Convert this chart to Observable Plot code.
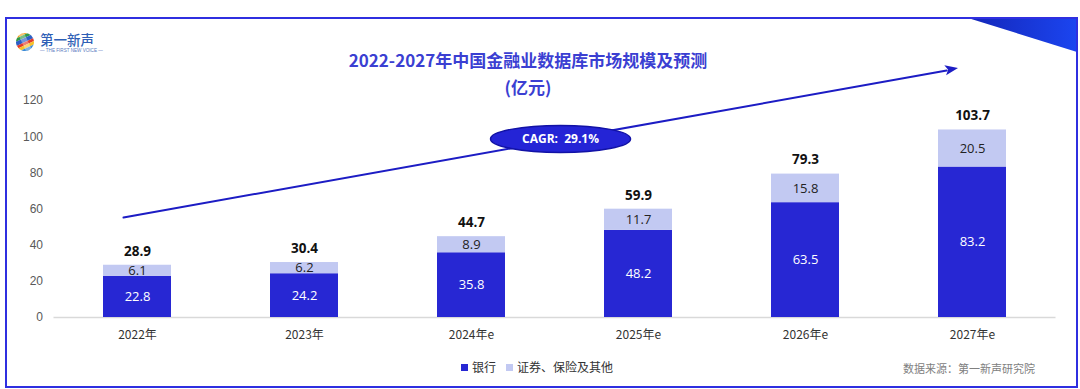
<!DOCTYPE html>
<html><head><meta charset="utf-8">
<script src="https://cdn.jsdelivr.net/npm/d3@7"></script>
<script src="https://cdn.jsdelivr.net/npm/@observablehq/plot@0.6"></script>
<style>
body{margin:0;background:#fff;}
#wrap{position:relative;width:1080px;height:389px;overflow:hidden;background:#fff;font-family:"Noto Sans CJK SC","Noto Sans",sans-serif;}
#frame{position:absolute;left:5px;top:17px;width:1069px;height:367px;border:2px solid #2f2fe0;box-sizing:content-box;}
#corner{position:absolute;left:0;top:0;}
#chart{position:absolute;left:0;top:0;}
.title{position:absolute;left:0;width:1056px;text-align:center;color:#3b3fd2;font-weight:700;font-size:17px;line-height:20px;}
#legend{position:absolute;top:358px;left:461px;font-size:12px;color:#333;white-space:nowrap;}
#legend span.sw{display:inline-block;width:7px;height:7px;margin-right:4px;vertical-align:1px;}
#legend span.item{margin-right:10px;}
#source{position:absolute;top:360px;left:903px;font-size:11px;color:#808080;white-space:nowrap;}
#logo{position:absolute;left:14px;top:28px;}
</style></head><body>
<div id="wrap">
  <svg id="corner" width="1080" height="389">
    <defs><linearGradient id="cg" x1="0" y1="0" x2="1" y2="0">
      <stop offset="0" stop-color="#1426b8"/><stop offset="1" stop-color="#1b45f0"/></linearGradient></defs>
    <polygon points="968,18 1077,18 1077,52" fill="url(#cg)"/>
  </svg>
  <div id="frame"></div>
  <svg id="logo" width="100" height="30">
    <defs><clipPath id="lc"><circle cx="11" cy="14" r="9"/></clipPath></defs>
    <g clip-path="url(#lc)" transform="rotate(-25 11 14)">
      <rect x="0" y="3" width="24" height="4" fill="#f2a21f"/>
      <rect x="0" y="7" width="24" height="3" fill="#2f9a48"/>
      <rect x="0" y="10" width="24" height="4" fill="#2d5fc6"/>
      <rect x="0" y="14" width="24" height="3" fill="#e33b2b"/>
      <rect x="0" y="17" width="24" height="3" fill="#f6c12a"/>
      <rect x="0" y="20" width="24" height="6" fill="#3a8ad6"/>
      <rect x="8" y="2" width="6" height="24" fill="#ffffff" opacity="0.35"/>
    </g>
    <text x="26" y="17" font-size="13.5" fill="#2f5fb6" font-family="Noto Sans CJK SC" font-weight="500">第一新声</text>
    <text x="26" y="24" font-size="4.6" fill="#5a7cc0" font-family="Liberation Sans">— THE FIRST NEW VOICE —</text>
  </svg>
  <div id="t1" class="title" style="top:50px;"></div>
  <div id="t2" class="title" style="top:77px;"></div>
  <div id="chart"></div>
  <div id="legend"></div>
  <div id="source"></div>
</div>
<script>
// ---- data ----
const categories = ["2022年", "2023年", "2024年e", "2025年e", "2026年e", "2027年e"];
const bankValues = [22.8, 24.2, 35.8, 48.2, 63.5, 83.2];
const otherValues = [6.1, 6.2, 8.9, 11.7, 15.8, 20.5];
const totalValues = [28.9, 30.4, 44.7, 59.9, 79.3, 103.7];
const seriesNames = ["银行", "证券、保险及其他"];
const seriesColors = ["#2727d3", "#c2c9f2"];
const yTicks = [0, 20, 40, 60, 80, 100, 120];
const titleText = "2022-2027年中国金融业数据库市场规模及预测";
const subtitleText = "(亿元)";
const cagrText = "CAGR:  29.1%";
const arrowFrom = 55.3;   // trend arrow start (y value)
const arrowTo = 137.7;    // trend arrow end (y value)
const sourceText = "数据来源：第一新声研究院";

// ---- build ----
document.getElementById("t1").textContent = titleText;
document.getElementById("t2").textContent = subtitleText;
document.getElementById("source").textContent = sourceText;
const leg = document.getElementById("legend");
seriesNames.forEach((s, i) => {
  const it = document.createElement("span"); it.className = "item";
  const sw = document.createElement("span"); sw.className = "sw"; sw.style.background = seriesColors[i];
  it.appendChild(sw); it.appendChild(document.createTextNode(s)); leg.appendChild(it);
});

const long = [];
categories.forEach((c, i) => {
  long.push({cat: c, series: seriesNames[0], value: bankValues[i]});
  long.push({cat: c, series: seriesNames[1], value: otherValues[i]});
});
const bankLbl = categories.map((c, i) => ({cat: c, y: bankValues[i] / 2, t: bankValues[i].toFixed(1)}));
const otherLbl = categories.map((c, i) => ({cat: c, y: bankValues[i] + otherValues[i] / 2, t: otherValues[i].toFixed(1)}));
const totalLbl = categories.map((c, i) => ({cat: c, y: totalValues[i], t: totalValues[i].toFixed(1)}));
const arrowData = [{x1: categories[0], y1: arrowFrom, x2: categories[categories.length - 1], y2: arrowTo}];

const numFont = "'Open Sans','Noto Sans',sans-serif";
const arrowColor = "#1c1cc4";
const chart = Plot.plot({
  width: 1080, height: 389,
  marginLeft: 53.5, marginRight: 24.5, marginTop: 100, marginBottom: 72,
  style: {background: "transparent", fontFamily: "'Noto Sans CJK SC',sans-serif", fontSize: "12px", color: "#333"},
  x: {domain: categories, paddingInner: 0.59, paddingOuter: 0.295, label: null, tickSize: 0, tickPadding: 13},
  y: {domain: [0, 120], ticks: yTicks, label: null, tickSize: 0, tickPadding: 11},
  color: {domain: seriesNames, range: seriesColors},
  marks: [
    Plot.ruleY([0], {stroke: "#d9d9d9", strokeWidth: 1.5}),
    Plot.barY(long, {x: "cat", y: "value", fill: "series"}),
    Plot.arrow(arrowData, {x1: "x1", y1: "y1", x2: "x2", y2: "y2", stroke: arrowColor, strokeWidth: 2, headLength: 0, insetEnd: 12, dx: -14}),
    Plot.text(bankLbl, {x: "cat", y: "y", text: "t", fill: "white", fontSize: 13, fontFamily: numFont}),
    Plot.text(otherLbl, {x: "cat", y: "y", text: "t", fill: "#222", fontSize: 13, fontFamily: numFont}),
    Plot.text(totalLbl, {x: "cat", y: "y", text: "t", fill: "#111", fontSize: 13.5, fontWeight: 700, dy: -14, fontFamily: numFont})
  ]
});
d3.select(chart).selectAll('g[aria-label="y-axis tick label"]').attr("fill", "#595959").style("font-family", "'Liberation Sans',Arial,sans-serif");
d3.select(chart).selectAll('g[aria-label="x-axis tick label"]').attr("fill", "#333");

// filled arrow head + CAGR badge placed on the trend arrow
const sx = chart.scale("x"), sy = chart.scale("y");
const half = (sx.bandwidth || 0) / 2;
const ax1 = sx.apply(categories[0]) + half - 14, ax2 = sx.apply(categories[categories.length - 1]) + half - 14;
const ay1 = sy.apply(arrowFrom), ay2 = sy.apply(arrowTo);
const ang = Math.atan2(ay2 - ay1, ax2 - ax1);
const g = d3.select(chart).append("g");
const hl = 13, hw = 5;
const bx = ax2 - hl * Math.cos(ang), by = ay2 - hl * Math.sin(ang);
const nx = -Math.sin(ang) * hw, ny = Math.cos(ang) * hw;
g.append("polygon").attr("points", `${ax2},${ay2} ${bx + nx},${by + ny} ${bx + 3 * Math.cos(ang)},${by + 3 * Math.sin(ang)} ${bx - nx},${by - ny}`).attr("fill", arrowColor);
const t = 0.524;
const cx = ax1 + t * (ax2 - ax1), cy = ay1 + t * (ay2 - ay1);
g.append("ellipse").attr("cx", cx).attr("cy", cy).attr("rx", 70).attr("ry", 13.5)
  .attr("fill", "#2424d6").attr("stroke", "#1212a6").attr("stroke-width", 1.5);
g.append("text").attr("x", cx).attr("y", cy).attr("dy", "0.35em").attr("text-anchor", "middle")
  .attr("fill", "white").attr("font-weight", 700).attr("font-size", 12).attr("font-family", numFont).attr("xml:space", "preserve")
  .style("white-space", "pre").text(cagrText);

document.getElementById("chart").appendChild(chart);
</script>
</body></html>
